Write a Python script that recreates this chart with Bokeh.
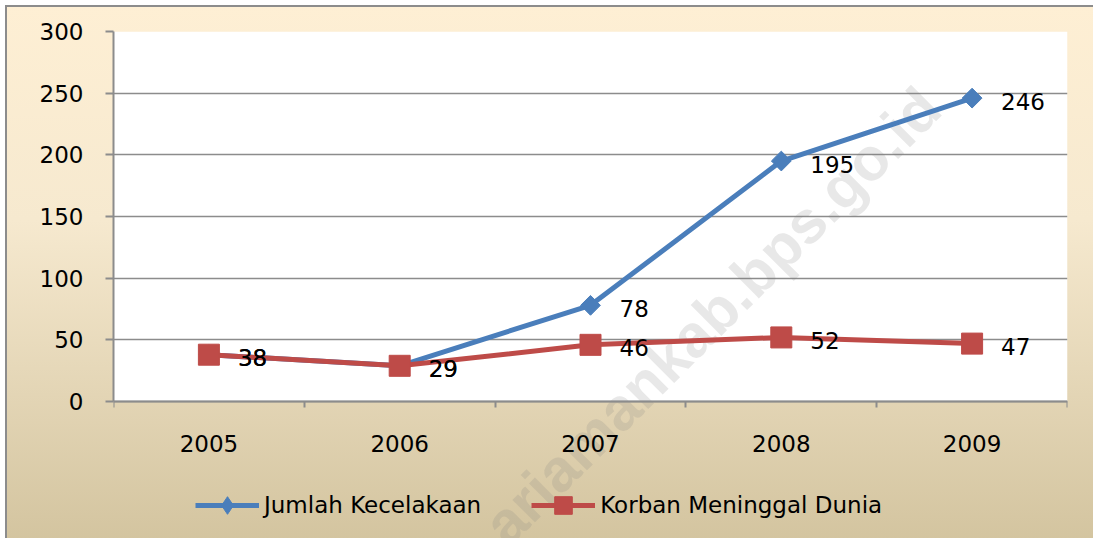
import math
from bokeh.plotting import figure
from bokeh.models import Range1d, FixedTicker, Legend, LegendItem, Label, BoxAnnotation
from bokeh.core.properties import value
from bokeh.embed import file_html
from bokeh.resources import INLINE

# ---- data ----
years = ["2005", "2006", "2007", "2008", "2009"]
jumlah_kecelakaan = [38, 29, 78, 195, 246]
korban_meninggal = [38, 29, 46, 52, 47]
y_ticks = [0, 50, 100, 150, 200, 250, 300]
series_names = ["Jumlah Kecelakaan", "Korban Meninggal Dunia"]
watermark_text = "ariamankab.bps.go.id"

BLUE = "#4A7EBB"
RED = "#BE4B48"
GRID = "#8C8C8C"
FONT = "DejaVu Sans"
FS = "23px"

xs = [i + 0.5 for i in range(len(years))]
y_lo, y_hi = y_ticks[0], y_ticks[-1]

# frame reaches down to the bottom of the chart so that legend and
# watermark (outside the value area) are drawn without clipping
p = figure(width=1093, height=538, output_backend="svg", toolbar_location=None,
           x_range=Range1d(0, len(years)), y_range=Range1d(-111, y_hi),
           x_axis_location="above",
           min_border_left=113, min_border_right=26, min_border_top=31,
           min_border_bottom=0)

p.background_fill_alpha = 0
p.border_fill_alpha = 0
p.outline_line_color = None
p.styles = {
    "background": ("linear-gradient(#8C8C8C,#8C8C8C) 6px 5px / 100% 2px no-repeat, "
                   "linear-gradient(#8C8C8C,#8C8C8C) 5px 5px / 2px 100% no-repeat, "
                   "linear-gradient(180deg, #FEEFD4 0%, #F6E9CF 40%, #D3C49F 100%) 6px 5px / 100% 100% no-repeat, "
                   "white"),
}

# white value area
p.add_layout(BoxAnnotation(left=0, right=len(years), bottom=y_lo, top=y_hi,
                           fill_color="white", fill_alpha=1, line_color=None,
                           level="image"))

# grid
p.xgrid.visible = False
p.ygrid.ticker = FixedTicker(ticks=y_ticks)
p.ygrid.grid_line_color = GRID
p.ygrid.grid_line_width = 1.5

# y axis
p.yaxis.ticker = FixedTicker(ticks=y_ticks)
p.yaxis.bounds = (y_lo, y_hi)
p.yaxis.axis_line_color = GRID
p.yaxis.axis_line_width = 2
p.yaxis.major_tick_line_color = GRID
p.yaxis.major_tick_line_width = 2
p.yaxis.major_tick_out = 8
p.yaxis.major_tick_in = 0
p.yaxis.minor_tick_line_color = None
p.yaxis.major_label_standoff = 22
p.yaxis.major_label_text_font = FONT
p.yaxis.major_label_text_font_size = FS
p.yaxis.major_label_text_color = "black"

# x axis, fixed at value 0
p.xaxis.fixed_location = y_lo
p.xaxis.ticker = FixedTicker(ticks=xs, minor_ticks=list(range(len(years) + 1)))
p.xaxis.major_label_overrides = {x: y for x, y in zip(xs, years)}
p.xaxis.axis_line_color = GRID
p.xaxis.axis_line_width = 2
p.xaxis.major_tick_line_color = None
p.xaxis.major_tick_out = 0
p.xaxis.major_tick_in = 0
p.xaxis.minor_tick_line_color = GRID
p.xaxis.minor_tick_line_width = 2
p.xaxis.minor_tick_out = 0
p.xaxis.minor_tick_in = 6
p.xaxis.major_label_standoff = -50
p.xaxis.major_label_text_font = FONT
p.xaxis.major_label_text_font_size = FS
p.xaxis.major_label_text_color = "black"

# watermark
wm = Label(x=4.28, y=246, text=watermark_text, angle=math.radians(45),
           text_align="right", text_baseline="middle",
           text_font="Liberation Sans", text_font_style="bold",
           text_font_size="60px", text_color="#808080", text_alpha=0.18,
           level="underlay")
p.add_layout(wm)

# series
bl = p.line(xs, jumlah_kecelakaan, line_color=BLUE, line_width=5)
bm = p.scatter(xs, jumlah_kecelakaan, marker="square", angle=math.pi / 4,
               size=14, color=BLUE)
rl = p.line(xs, korban_meninggal, line_color=RED, line_width=5)
rm = p.scatter(xs, korban_meninggal, marker="square", size=21, color=RED)

# data labels
for vals in (jumlah_kecelakaan, korban_meninggal):
    p.text(xs, vals, text=[str(v) for v in vals], x_offset=29, y_offset=3,
           text_align="left", text_baseline="middle",
           text_font=value(FONT), text_font_size=FS, text_color="black")

# legend-only marker shapes (hidden in the plot, shown in the legend)
lg_b = p.scatter(xs, jumlah_kecelakaan, marker="diamond", color=BLUE, visible=False)
lg_r = p.scatter(xs, korban_meninggal, marker="square", color=RED, visible=False)

legend = Legend(items=[LegendItem(label=series_names[0], renderers=[bl, lg_b]),
                       LegendItem(label=series_names[1], renderers=[rl, lg_r])],
                location=(82, 11), orientation="horizontal",
                glyph_width=64, glyph_height=44, label_height=44,
                label_standoff=5, spacing=50, padding=0, margin=0,
                border_line_color=None, background_fill_alpha=0,
                inactive_fill_alpha=0,
                label_text_font=FONT, label_text_font_size=FS,
                label_text_color="black")
p.add_layout(legend, "center")

open("out.html", "w").write(file_html(p, INLINE))
